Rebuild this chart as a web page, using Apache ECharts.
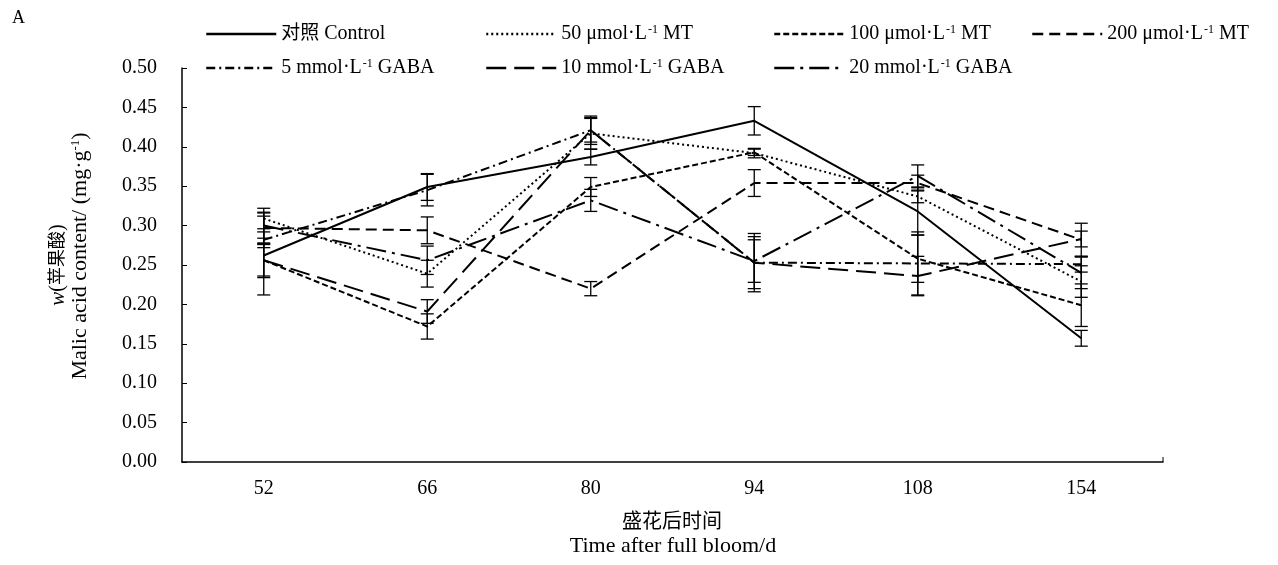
<!DOCTYPE html>
<html>
<head>
<meta charset="utf-8">
<script src="https://cdn.jsdelivr.net/npm/echarts@6/dist/echarts.min.js"></script>
<style>html,body{margin:0;padding:0;background:#fff}#c{width:1278px;height:565px}</style>
</head>
<body>
<div id="c"></div>
<script>
const categories = ['52', '66', '80', '94', '108', '154'];
const yTicks = ['0.00','0.05','0.10','0.15','0.20','0.25','0.30','0.35','0.40','0.45','0.50'];

const seriesNames = ['对照 Control', '50 μmol·L⁻¹ MT', '100 μmol·L⁻¹ MT', '200 μmol·L⁻¹ MT',
  '5 mmol·L⁻¹ GABA', '10 mmol·L⁻¹ GABA', '20 mmol·L⁻¹ GABA'];

const control = [0.262, 0.349, 0.387, 0.433, 0.318, 0.157];
const mt50    = [0.309, 0.239, 0.417, 0.392, 0.337, 0.229];
const mt100   = [0.256, 0.172, 0.349, 0.393, 0.258, 0.199];
const mt200   = [0.297, 0.294, 0.220, 0.354, 0.354, 0.282];
const gaba5   = [0.282, 0.345, 0.421, 0.253, 0.252, 0.251];
const gaba10  = [0.256, 0.191, 0.421, 0.253, 0.236, 0.283];
const gaba20  = [0.300, 0.256, 0.332, 0.255, 0.363, 0.240];

const controlErr = [0.050, 0.017, 0.010, 0.018, 0.030, 0.010];
const mt50Err    = [0.013, 0.017, 0.020, 0.006, 0.008, 0.020];
const mt100Err   = [0.022, 0.016, 0.012, 0.004, 0.030, 0.027];
const mt200Err   = [0.020, 0.017, 0.009, 0.017, 0.010, 0.021];
const gaba5Err   = [0.010, 0.020, 0.018, 0.033, 0.040, 0.010];
const gaba10Err  = [0.020, 0.015, 0.015, 0.037, 0.025, 0.010];
const gaba20Err  = [0.016, 0.018, 0.014, 0.027, 0.014, 0.020];

const values = [control, mt50, mt100, mt200, gaba5, gaba10, gaba20];
const errors = [controlErr, mt50Err, mt100Err, mt200Err, gaba5Err, gaba10Err, gaba20Err];
const dashes = ['solid', [2, 3], [6, 3], [11, 6], [9, 4, 2, 4], [20, 8], [20, 6, 3, 6]];

const legendLabels = {
  '对照 Control': '{c|对照} Control',
  '50 μmol·L⁻¹ MT': '50 μmol·L{s|-1} MT',
  '100 μmol·L⁻¹ MT': '100 μmol·L{s|-1} MT',
  '200 μmol·L⁻¹ MT': '200 μmol·L{s|-1} MT',
  '5 mmol·L⁻¹ GABA': '5 mmol·L{s|-1} GABA',
  '10 mmol·L⁻¹ GABA': '10 mmol·L{s|-1} GABA',
  '20 mmol·L⁻¹ GABA': '20 mmol·L{s|-1} GABA'
};
const legendPos = [[200, 19], [480, 19], [768, 19], [1026, 19], [200, 53], [480, 53], [768, 53]];

const SERIF = '"Liberation Serif", "Times New Roman", "Noto Sans CJK SC", serif';

const chart = echarts.init(document.getElementById('c'), null, {renderer: 'canvas'});

const series = [];
values.forEach((vals, k) => {
  series.push({
    name: seriesNames[k],
    type: 'line',
    data: vals,
    symbol: 'none',
    z: 3,
    lineStyle: {color: '#000', width: 2, type: dashes[k]},
    itemStyle: {color: '#000'}
  });
  series.push({
    name: 'err' + k,
    type: 'custom',
    z: 4,
    data: vals.map((v, i) => [i, v, errors[k][i]]),
    renderItem: function (params, api) {
      const x = api.value(0), v = api.value(1), e = api.value(2);
      const hi = api.coord([x, v + e]);
      const lo = api.coord([x, v - e]);
      const w = 6.5;
      const st = {stroke: '#000', lineWidth: 1.3};
      return {
        type: 'group',
        children: [
          {type: 'line', shape: {x1: hi[0], y1: hi[1], x2: lo[0], y2: lo[1]}, style: st},
          {type: 'line', shape: {x1: hi[0] - w, y1: hi[1], x2: hi[0] + w, y2: hi[1]}, style: st},
          {type: 'line', shape: {x1: lo[0] - w, y1: lo[1], x2: lo[0] + w, y2: lo[1]}, style: st}
        ]
      };
    }
  });
});

const legends = seriesNames.map((n, k) => ({
  data: [n],
  left: legendPos[k][0],
  top: legendPos[k][1],
  itemWidth: 70,
  itemHeight: 14,
  itemGap: 4,
  selectedMode: false,
  itemStyle: {opacity: 0},
  lineStyle: {width: 2.5},
  formatter: name => legendLabels[name],
  textStyle: {
    fontFamily: SERIF, fontSize: 20, color: '#000', padding: [0, 0, 0, 0],
    rich: {
      s: {fontFamily: SERIF, fontSize: 12, verticalAlign: 'top', lineHeight: 16, padding: [0, 0, 8, 1]},
      c: {fontFamily: SERIF, fontSize: 19}
    }
  }
}));

chart.setOption({
  animation: false,
  backgroundColor: '#fff',
  legend: legends,
  grid: {left: 182, right: 115, top: 68, bottom: 103, containLabel: false},
  xAxis: {
    type: 'category',
    data: categories,
    boundaryGap: true,
    axisLine: {lineStyle: {color: '#000', width: 1.5}},
    axisTick: {inside: true, alignWithLabel: true, length: 5, lineStyle: {color: '#000', width: 1}},
    axisLabel: {fontFamily: SERIF, fontSize: 20, color: '#000', margin: 17},
    splitLine: {show: false}
  },
  yAxis: {
    type: 'value',
    min: 0, max: 0.5, interval: 0.05,
    axisLine: {show: true, lineStyle: {color: '#000', width: 1.5}},
    axisTick: {show: true, inside: true, length: 5, lineStyle: {color: '#000', width: 1}},
    axisLabel: {fontFamily: SERIF, fontSize: 20, color: '#000', margin: 25,
      formatter: (v) => yTicks[Math.round(v / 0.05)]},
    splitLine: {show: false}
  },
  graphic: [
    {type: 'text', left: 12, top: 9, style: {text: 'A', font: '18px ' + SERIF, fill: '#000'}},
    {type: 'text', x: 58, y: 265, rotation: Math.PI / 2,
      style: {text: '{i|w}({c|苹果酸})', fill: '#000', align: 'center', verticalAlign: 'middle',
        font: '20px ' + SERIF,
        rich: {i: {fontFamily: SERIF, fontStyle: 'italic', fontSize: 21},
               c: {fontFamily: SERIF, fontSize: 18}}}},
    {type: 'text', x: 80, y: 256, rotation: Math.PI / 2,
      style: {text: 'Malic acid content/ (mg·g{s|-1})', fill: '#000', align: 'center', verticalAlign: 'middle',
        font: '22px ' + SERIF,
        rich: {s: {fontFamily: SERIF, fontSize: 13, verticalAlign: 'top', lineHeight: 14, padding: [0, 0, 8, 0]}}}},
    {type: 'text', x: 672, y: 523, style: {text: '盛花后时间', fill: '#000', align: 'center', verticalAlign: 'middle', font: '20px ' + SERIF}},
    {type: 'text', x: 673, y: 546, style: {text: 'Time after full bloom/d', fill: '#000', align: 'center', verticalAlign: 'middle', font: '22px ' + SERIF}},
    {type: 'line', shape: {x1: 1163, y1: 462, x2: 1163, y2: 457}, style: {stroke: '#000', lineWidth: 1}}
  ],
  series: series
});
</script>
</body>
</html>
